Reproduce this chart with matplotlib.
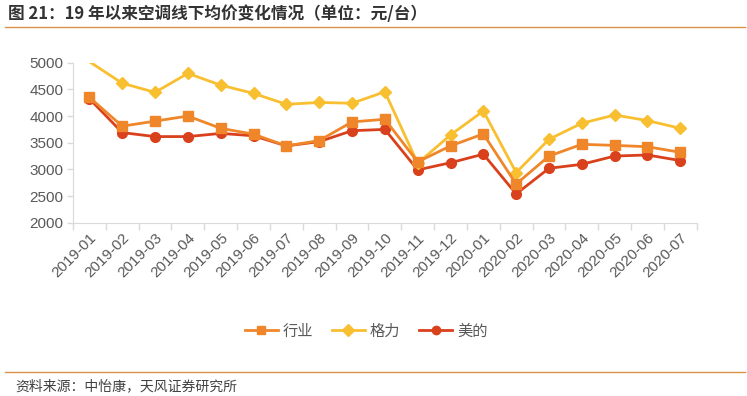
import matplotlib
matplotlib.use('Agg')
import matplotlib.pyplot as plt
from matplotlib.lines import Line2D

plt.rcParams['font.family'] = ['Noto Sans CJK SC', 'DejaVu Sans']

# data (元/台)
months = ['2019-01', '2019-02', '2019-03', '2019-04', '2019-05', '2019-06',
          '2019-07', '2019-08', '2019-09', '2019-10', '2019-11', '2019-12',
          '2020-01', '2020-02', '2020-03', '2020-04', '2020-05', '2020-06',
          '2020-07']
industry = [4350, 3810, 3905, 4000, 3770, 3660, 3440, 3540, 3890, 3940,
            3140, 3440, 3665, 2725, 3250, 3470, 3450, 3425, 3320]
gree = [5020, 4615, 4445, 4800, 4580, 4425, 4220, 4255, 4240, 4455,
        3115, 3645, 4095, 2940, 3565, 3865, 4020, 3915, 3770]
midea = [4325, 3690, 3615, 3615, 3675, 3630, 3440, 3520, 3725, 3750,
         2990, 3125, 3285, 2540, 3020, 3095, 3250, 3270, 3165]

series_names = ['行业', '格力', '美的']
colors = ['#F0862A', '#F8BF30', '#D9411C']
markers = ['s', 'D', 'o']
ymin, ymax = 2000, 5000

fig = plt.figure(figsize=(7.47, 3.96), dpi=100)
ax = fig.add_axes([0.0977, 0.4376, 0.835, 0.404])

x = list(range(len(months)))
for vals, c, m, z in zip([industry, gree, midea], colors, markers, [3, 2, 1]):
    # points beyond the axis range get no marker (like Excel)
    shown = [i for i, v in enumerate(vals) if ymin <= v <= ymax]
    ax.plot(x, vals, color=c, marker=m, markersize=7 if m != 'D' else 6.5,
            linewidth=2, zorder=z, markevery=shown)

ax.set_xlim(-0.5, len(months) - 0.5)
ax.set_ylim(ymin, ymax)
ax.set_yticks([2000, 2500, 3000, 3500, 4000, 4500, 5000])
ax.set_xticks(x)
ax.set_xticklabels(months, rotation=45, ha='right', rotation_mode='anchor')
ax.set_xticks([i + 0.5 for i in range(-1, len(months))], minor=True)

for lab in ax.get_xticklabels() + ax.get_yticklabels():
    lab.set_fontfamily(['Liberation Sans', 'DejaVu Sans'])
    lab.set_fontsize(11)
    lab.set_color('#595959')

ax.tick_params(axis='x', which='major', length=0, pad=6)
ax.tick_params(axis='x', which='minor', length=5, color='#D9D9D9', width=1)
ax.tick_params(axis='y', length=4, color='#D9D9D9', width=1, pad=3)

for s in ['top', 'right']:
    ax.spines[s].set_visible(False)
ax.spines['left'].set_color('#D9D9D9')
ax.spines['bottom'].set_color('#D9D9D9')

handles = [Line2D([], [], color=c, marker=m, markersize=6, linewidth=2)
           for c, m in zip(colors, markers)]
fig.legend(handles, series_names, loc='center', bbox_to_anchor=(0.49, 0.164),
           ncol=3, frameon=False, fontsize=11, handlelength=2.2,
           handletextpad=0.3, columnspacing=1.2, labelcolor='#595959')

fig.text(0.011, 0.965, '图 21：19 年以来空调线下均价变化情况（单位：元/台）',
         fontsize=12, fontweight='bold', color='#333333', va='center')
fig.add_artist(Line2D([0.007, 0.997], [0.932, 0.932], color='#D9914B', linewidth=1))
fig.add_artist(Line2D([0.007, 0.997], [0.061, 0.061], color='#D9914B', linewidth=1))
fig.text(0.02, 0.025, '资料来源：中怡康，天风证券研究所', fontsize=10,
         color='#404040', va='center')

fig.savefig('out.png', dpi=100)
